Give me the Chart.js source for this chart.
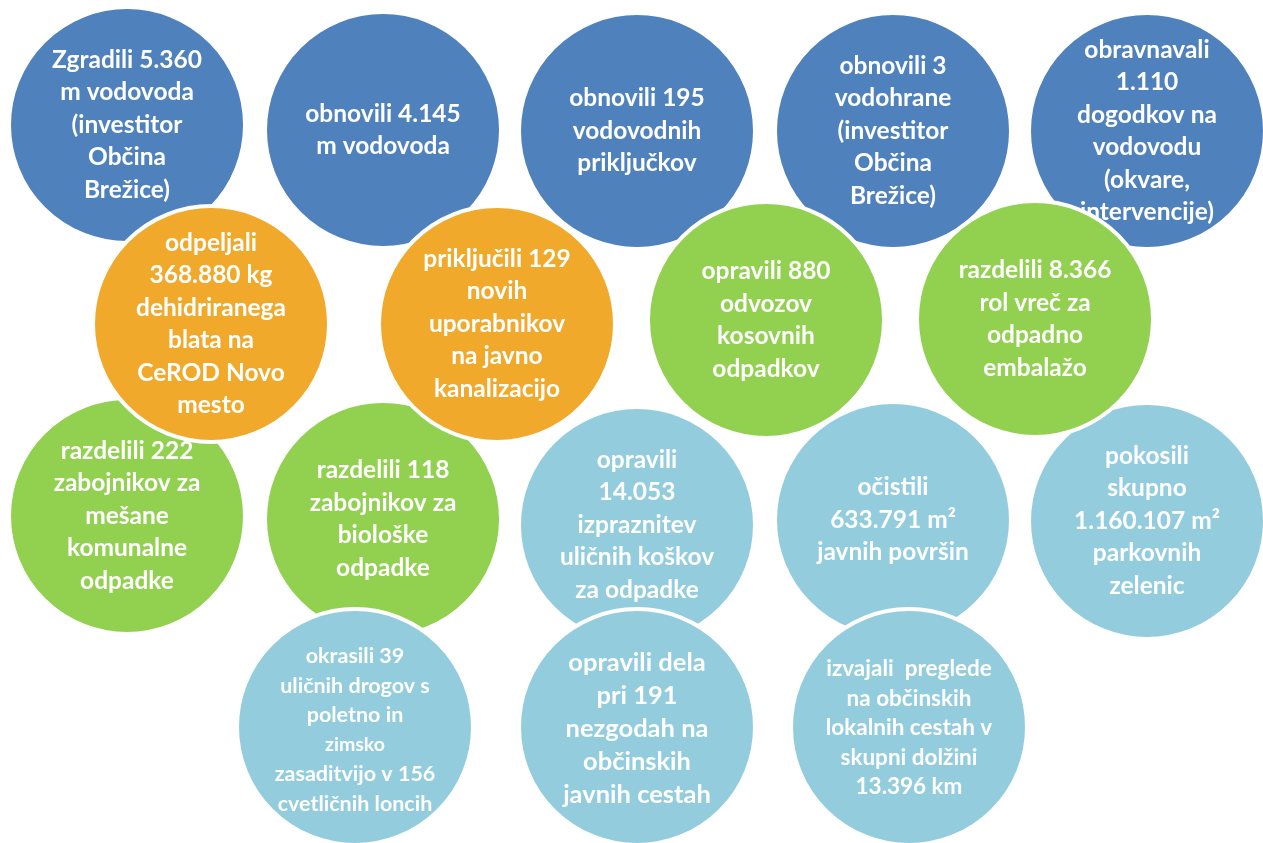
<!doctype html>
<html lang="sl">
  <head>
    <meta charset="UTF-8" />
    <title>Opravljeno delo v letu</title>
    <script src="https://cdn.jsdelivr.net/npm/chart.js"></script>
    <style>
      html, body { margin: 0; padding: 0; background: #fff; overflow: hidden; }
      #okvir { width: 1263px; height: 843px; }
    </style>
  </head>
  <body>
    <div id="okvir"><canvas id="krogi"></canvas></div>

    <script>
      // 1. vrsta – vodovod
      const vrsta1X = [127, 383, 637, 893, 1147];
      const vrsta1Y = [125, 130, 131, 131, 131];
      const vrsta1Vrsta = ["vodovod", "vodovod", "vodovod", "vodovod", "vodovod"];
      const vrsta1Besedila = [
        ["Zgradili 5.360", "m vodovoda", "(investitor", "Občina", "Brežice)"],
        ["obnovili 4.145", "m vodovoda"],
        ["obnovili 195", "vodovodnih", "priključkov"],
        ["obnovili 3", "vodohrane", "(investitor", "Občina", "Brežice)"],
        ["obravnavali", "1.110", "dogodkov na", "vodovodu", "(okvare,", "intervencije)"],
      ];

      // 2. vrsta – kanalizacija in odpadki
      const vrsta2X = [211, 497, 766, 1035];
      const vrsta2Y = [324, 324, 320, 319];
      const vrsta2Vrsta = ["kanalizacija", "kanalizacija", "odpadki", "odpadki"];
      const vrsta2Besedila = [
        ["odpeljali", "368.880 kg", "dehidriranega", "blata na", "CeROD Novo", "mesto"],
        ["priključili 129", "novih", "uporabnikov", "na javno", "kanalizacijo"],
        ["opravili 880", "odvozov", "kosovnih", "odpadkov"],
        ["razdelili 8.366", "rol vreč za", "odpadno", "embalažo"],
      ];

      // 3. vrsta – odpadki in javne površine
      const vrsta3X = [127, 383, 637, 893, 1147];
      const vrsta3Y = [516, 519, 525, 520, 521];
      const vrsta3Vrsta = ["odpadki", "odpadki", "povrsine", "povrsine", "povrsine"];
      const vrsta3Besedila = [
        ["razdelili 222", "zabojnikov za", "mešane", "komunalne", "odpadke"],
        ["razdelili 118", "zabojnikov za", "biološke", "odpadke"],
        ["opravili", "14.053", "izpraznitev", "uličnih koškov", "za odpadke"],
        ["očistili", "633.791 m²", "javnih površin"],
        ["pokosili", "skupno", "1.160.107 m²", "parkovnih", "zelenic"],
      ];

      // 4. vrsta – ceste in zasaditve
      const vrsta4X = [355, 637, 909];
      const vrsta4Y = [727, 727, 727];
      const vrsta4Vrsta = ["povrsine", "povrsine", "povrsine"];
      const vrsta4Besedila = [
        ["okrasili 39", "uličnih drogov s", "poletno in", "zimsko", "zasaditvijo v 156", "cvetličnih loncih"],
        ["opravili dela", "pri 191", "nezgodah na", "občinskih", "javnih cestah"],
        ["izvajali  preglede", "na občinskih", "lokalnih cestah v", "skupni dolžini", "13.396 km"],
      ];

      const barve = {
        vodovod: "#4f81bd",
        kanalizacija: "#f0a92b",
        odpadki: "#92d050",
        povrsine: "#93cddd",
      };

      const SIRINA = 1263;
      const VISINA = 843;
      const POLMER = 118;
      const ROB = 4;
      // Chart.js pri mehurčkih odmakne risalno površino za polmer + rob,
      // zato razpon osi skrajšamo za isto vrednost in ohranimo 1:1 s piksli
      const ODMIK = POLMER + ROB;

      // pisava: velikost in razmik vrstic
      const PISAVA = "Lato";
      const privzetaPisava = { velikost: 24.5, razmik: 32.5 };
      const posebnePisave = {
        "4-0": { velikost: 21.5, razmik: 29.6, zamik: 3 },
        "4-1": { velikost: 25.5, razmik: 33, zamik: 2 },
        "4-2": { velikost: 22.5, razmik: 29.5, zamik: 1 },
      };
      const manjseVrstice = { "zimsko": 19.5 };

      function sestavi(xs, ys, vrste, besedila, vrsta, red) {
        return {
          label: "vrsta " + vrsta,
          data: xs.map((x, i) => ({ x: x, y: ys[i] })),
          besedila: besedila,
          vrsta: vrsta,
          backgroundColor: vrste.map((v) => barve[v]),
          borderColor: "#ffffff",
          borderWidth: ROB,
          radius: POLMER,
          hoverRadius: 0,
          clip: false,
          order: red,
        };
      }

      // manjši "order" = narisano višje
      const datasets = [
        sestavi(vrsta2X, vrsta2Y, vrsta2Vrsta, vrsta2Besedila, 2, 1),
        sestavi(vrsta4X, vrsta4Y, vrsta4Vrsta, vrsta4Besedila, 4, 2),
        sestavi(vrsta3X, vrsta3Y, vrsta3Vrsta, vrsta3Besedila, 3, 3),
        sestavi(vrsta1X, vrsta1Y, vrsta1Vrsta, vrsta1Besedila, 1, 4),
      ];

      // besedilo v krogih – nariše se takoj za svojo vrsto, da ga prekrijejo višji krogi
      const napisi = {
        id: "napisi",
        afterDatasetDraw(chart, args) {
          const ds = chart.data.datasets[args.index];
          const ctx = chart.ctx;
          ctx.save();
          ctx.fillStyle = "#ffffff";
          ctx.textAlign = "center";
          ctx.textBaseline = "middle";
          args.meta.data.forEach((el, i) => {
            const vrstice = ds.besedila[i];
            const p = posebnePisave[ds.vrsta + "-" + i] || privzetaPisava;
            const zacetek = el.y + (p.zamik || 0) - ((vrstice.length - 1) * p.razmik) / 2;
            vrstice.forEach((t, j) => {
              const vel = manjseVrstice[t] || p.velikost;
              ctx.font = "bold " + vel + "px " + PISAVA;
              ctx.fillText(t, el.x, zacetek + j * p.razmik);
            });
          });
          ctx.restore();
        },
      };

      new Chart(document.getElementById("krogi"), {
        type: "bubble",
        data: { datasets: datasets },
        options: {
          responsive: true,
          maintainAspectRatio: false,
          animation: false,
          events: [],
          layout: { padding: 0 },
          scales: {
            x: { type: "linear", min: ODMIK, max: SIRINA - ODMIK, display: false },
            y: { type: "linear", min: ODMIK, max: VISINA - ODMIK, reverse: true, display: false },
          },
          plugins: {
            legend: { display: false },
            tooltip: { enabled: false },
          },
        },
        plugins: [napisi],
      });
    </script>
  </body>
</html>
